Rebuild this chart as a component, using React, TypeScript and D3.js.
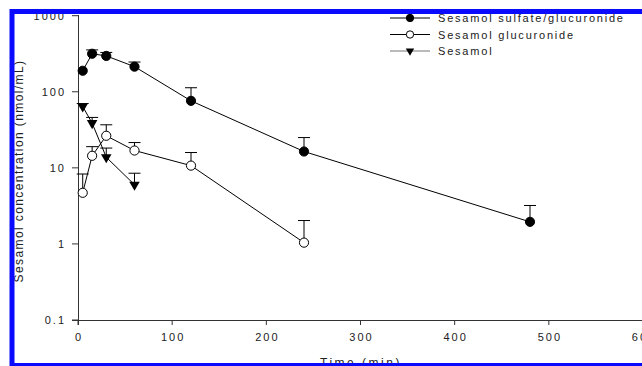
import React from "react";
import * as d3 from "d3";

// sampling times (min)
const times = [5, 15, 30, 60, 120, 240, 480];

// Sesamol sulfate/glucuronide
const sulfGluc = [189, 316, 296, 214, 76, 16.4, 1.95];
const sulfGlucErr = [189, 355, 329, 246, 113, 25, 3.2];

// Sesamol glucuronide
const glucTimes = [5, 15, 30, 60, 120, 240];
const gluc = [4.7, 14.4, 26.4, 16.9, 10.7, 1.04];
const glucErr = [8.3, 19, 36.8, 21.5, 15.9, 2.03];

// Sesamol
const sesTimes = [5, 15, 30, 60];
const sesamol = [64, 38.7, 13.8, 6.0];
const sesamolErr = [70, 46, 18.2, 8.5];

const xTicks = [0, 100, 200, 300, 400, 500, 600];
const yTicks = [0.1, 1, 10, 100, 1000];
const yTickLabels = ["0.1", "1", "10", "100", "1000"];
const legendLabels = ["Sesamol sulfate/glucuronide", "Sesamol glucuronide", "Sesamol"];

const font = "'Liberation Sans', Arial, sans-serif";

const App = () => {
  const W = 642;
  const H = 366;
  const x = d3.scaleLinear().domain([0, 600]).range([78, 643]);
  const y = d3.scaleLog().domain([0.1, 1000]).range([320, 15.7]);

  const line = d3
    .line<[number, number]>()
    .x((d) => x(d[0]))
    .y((d) => y(d[1]));

  const series = [
    { t: times, v: sulfGluc, e: sulfGlucErr, kind: "filled" },
    { t: glucTimes, v: gluc, e: glucErr, kind: "open" },
    { t: sesTimes, v: sesamol, e: sesamolErr, kind: "tri" },
  ];

  const marker = (kind: string, cx: number, cy: number, key: string, scale = 1) => {
    if (kind === "tri") {
      const tri = d3.symbol().type(d3.symbolTriangle).size(48 * scale * scale)();
      return (
        <path key={key} d={tri || ""} transform={`translate(${cx},${cy}) rotate(180)`} fill="#000" />
      );
    }
    return (
      <circle
        key={key}
        cx={cx}
        cy={cy}
        r={4.6 * scale}
        fill={kind === "open" ? "#fff" : "#000"}
        stroke="#000"
        strokeWidth={1}
      />
    );
  };

  return (
    <svg width={W} height={H} style={{ position: "absolute", left: 0, top: 0, background: "#fff" }}>
      {/* axes */}
      <line x1={72} x2={W} y1={320.5} y2={320.5} stroke="#333" strokeWidth={1} />
      <line x1={78.5} x2={78.5} y1={15} y2={325} stroke="#333" strokeWidth={1} />
      {yTicks.map((t, i) => (
        <g key={"y" + t}>
          <line x1={72} x2={78} y1={y(t)} y2={y(t)} stroke="#333" />
          <text
            x={66}
            y={y(t) + 4}
            textAnchor="end"
            fontFamily={font}
            fontSize={11}
            letterSpacing={2}
            fill="#222"
          >
            {yTickLabels[i]}
          </text>
        </g>
      ))}
      {xTicks.map((t) => (
        <g key={"x" + t}>
          <line x1={x(t)} x2={x(t)} y1={320} y2={325} stroke="#333" />
          <text
            x={x(t) + 1}
            y={341}
            textAnchor="middle"
            fontFamily={font}
            fontSize={11}
            letterSpacing={2}
            fill="#222"
          >
            {t}
          </text>
        </g>
      ))}
      <text
        x={361}
        y={367}
        textAnchor="middle"
        fontFamily={font}
        fontSize={12}
        letterSpacing={2.5}
        fill="#222"
      >
        Time (min)
      </text>
      <text
        transform={`translate(23,171) rotate(-90)`}
        textAnchor="middle"
        fontFamily={font}
        fontSize={12}
        letterSpacing={1.4}
        fill="#222"
      >
        Sesamol concentration (nmol/mL)
      </text>

      {/* data lines */}
      {series.map((s, si) => (
        <path
          key={"l" + si}
          d={line(s.t.map((t, i) => [t, s.v[i]] as [number, number])) || ""}
          fill="none"
          stroke="#000"
          strokeWidth={1}
        />
      ))}
      {/* error bars */}
      {series.map((s, si) =>
        s.t.map((t, i) =>
          s.e[i] > s.v[i] ? (
            <g key={"e" + si + "-" + i} stroke="#000" strokeWidth={1}>
              <line x1={x(t)} x2={x(t)} y1={y(s.v[i])} y2={y(s.e[i])} />
              <line x1={x(t) - 6} x2={x(t) + 6} y1={y(s.e[i])} y2={y(s.e[i])} />
            </g>
          ) : null
        )
      )}
      {/* markers */}
      {series.map((s, si) => s.t.map((t, i) => marker(s.kind, x(t), y(s.v[i]), "m" + si + "-" + i)))}

      {/* legend */}
      {series.map((s, si) => {
        const ly = 18 + si * 16.5;
        return (
          <g key={"lg" + si}>
            <line x1={390} x2={430} y1={ly} y2={ly} stroke={si === 2 ? "#777" : "#000"} />
            {marker(s.kind, 410, ly, "lm" + si, 0.8)}
            <text x={438} y={ly + 4} fontFamily={font} fontSize={11} letterSpacing={1.8} fill="#222">
              {legendLabels[si]}
            </text>
          </g>
        );
      })}

      {/* blue frame */}
      <rect x={12} y={11.5} width={700} height={354} fill="none" stroke="#0a0aff" strokeWidth={5} />
    </svg>
  );
};

export default App;
